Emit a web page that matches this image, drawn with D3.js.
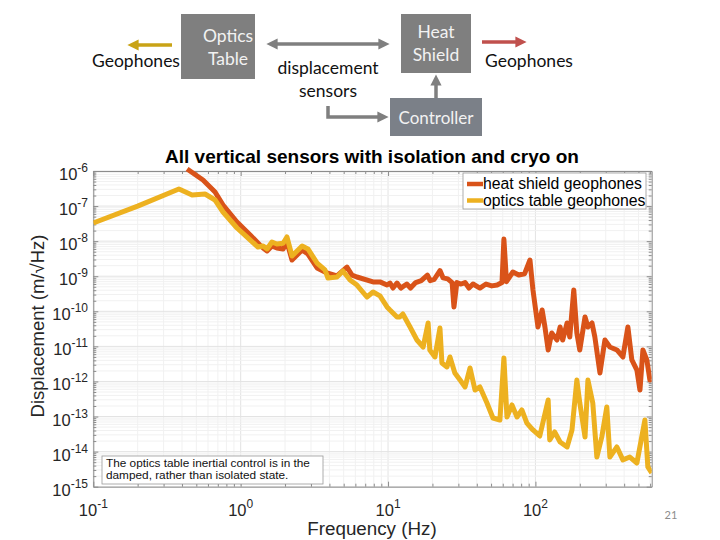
<!DOCTYPE html>
<html><head><meta charset="utf-8">
<script src="https://cdn.jsdelivr.net/npm/d3@7"></script>
<style>body{margin:0;background:#fff} svg{display:block}</style>
</head><body>
<svg id="c" width="720" height="540"></svg>
<script>
// ---------- data ----------
const chartTitle = "All vertical sensors with isolation and cryo on";
const seriesNames = ["heat shield geophones", "optics table geophones"];
const seriesColors = ["#D95319", "#EDB120"];
const xLabel = "Frequency (Hz)";
const yLabel = "Displacement (m/\u221AHz)";
const xTickExps = [-1, 0, 1, 2];
const yTickExps = [-6, -7, -8, -9, -10, -11, -12, -13, -14, -15];
const noteLines = ["The optics table inertial control is in the", "damped, rather than isolated state."];
const pageNumber = "21";

// heat shield geophones
const hsFreq = [0.433, 0.555, 0.67, 0.759, 0.944, 1.16, 1.35, 1.42, 1.51, 1.63, 1.76, 1.94, 2.06, 2.23, 2.61, 2.86, 3.30, 3.85, 4.50, 5.26, 5.69, 6.15, 7.91, 8.81, 9.84,
  10.3, 10.8, 11.5, 12.2, 13.4, 14.2, 15.4, 16.8, 18.5, 19.3, 20.6, 22.5, 23.6, 25.4, 27.2, 28.0, 29.3, 31.3, 33.3, 35.4, 37.7, 42.0, 46.2, 50.6, 55.0, 59.3, 61.1, 63.6, 70.3, 77.0, 84.5, 91.8, 96.2,
  104, 111, 116, 122, 129, 140, 147, 153, 164, 171, 182, 191, 200, 217, 227, 242, 253, 274, 296, 320, 357, 392, 424, 451, 488, 512, 536, 570, 598, 615];
const hsVal = [1.14e-6, 5.53e-7, 2.52e-7, 1.07e-7, 3.52e-8, 1.50e-8, 7.78e-9, 6.38e-9, 5.25e-9, 7.28e-9, 6.38e-9, 6.0e-9, 9.46e-9, 2.9e-9, 5.6e-9, 4.3e-9, 1.72e-9, 1.24e-9, 1.02e-9, 1.83e-9, 1.08e-9, 9.5e-10, 6.9e-10, 6.9e-10, 5.6e-10,
  6.4e-10, 4.6e-10, 6.4e-10, 4.6e-10, 6.0e-10, 4.6e-10, 6.6e-10, 7.5e-10, 1.08e-9, 7.5e-10, 8.2e-10, 1.45e-9, 9.0e-10, 8.4e-10, 6.6e-10, 1.33e-10, 6.6e-10, 6.0e-10, 6.6e-10, 4.6e-10, 6.0e-10, 4.6e-10, 6.0e-10, 5.3e-10, 5.6e-10, 6.6e-10, 1.15e-8, 7.0e-10, 1.32e-9, 1.08e-9, 1.18e-9, 2.9e-9, 4.05e-10,
  3.57e-11, 1.09e-10, 3.57e-11, 7.9e-12, 2.41e-11, 1.52e-11, 3.57e-11, 1.52e-11, 4.65e-11, 1.85e-11, 4.05e-10, 2.41e-11, 7.9e-12, 6.9e-11, 3.57e-11, 4.65e-11, 1.85e-11, 1.75e-12, 1.52e-11, 9.6e-12, 7.9e-12, 4.99e-12, 3.57e-11, 4.1e-12, 2.12e-12, 5.7e-13, 7.9e-12, 4.1e-12, 1.10e-12, 1.3e-12];

// optics table geophones
const otFreq = [0.1, 0.2, 0.381, 0.468, 0.573, 0.67, 0.759, 0.944, 1.10, 1.31, 1.42, 1.51, 1.63, 1.76, 1.94, 2.06, 2.23, 2.61, 2.86, 3.30, 3.73, 3.91, 4.50, 4.94, 5.52, 6.15, 7.19, 7.91, 8.81, 9.84,
  10.3, 11.5, 12.0, 12.6, 14.1, 15.7, 17.3, 18.7, 19.2, 20.8, 22.5, 23.2, 25.1, 26.3, 28.4, 30.8, 33.3, 36.0, 38.9, 42.0, 46.9, 51.5, 57.4, 61.1, 64.1, 69.3, 75.0, 80.9, 87.5, 96.2,
  107, 122, 125, 135, 147, 164, 177, 191, 200, 217, 227, 245, 261, 282, 305, 320, 357, 392, 437, 488, 553, 579, 615];
const otVal = [3.30e-8, 1.0e-7, 3.07e-7, 2.07e-7, 2.21e-7, 1.49e-7, 6.78e-8, 2.37e-8, 1.32e-8, 6.8e-9, 7.28e-9, 6.0e-9, 9.46e-9, 8.3e-9, 8.7e-9, 1.32e-8, 3.78e-9, 7.28e-9, 6.0e-9, 2.38e-9, 1.51e-9, 8.9e-10, 9.5e-10, 1.41e-9, 7.8e-10, 5.6e-10, 2.56e-10, 3.56e-10, 2.74e-10, 1.33e-10,
  1.09e-10, 6.9e-11, 6.9e-11, 8.4e-11, 3.57e-11, 1.52e-11, 9.6e-12, 4.65e-11, 7.9e-12, 4.99e-12, 3.34e-11, 3.37e-12, 2.59e-12, 4.99e-12, 1.75e-12, 1.10e-12, 6.97e-13, 2.42e-12, 5.7e-13, 6.97e-13, 2.44e-13, 9.1e-14, 7.98e-14, 4.67e-12, 9.7e-14, 2.14e-13, 9.7e-14, 1.54e-13, 6.5e-14, 4.14e-14,
  2.79e-14, 2.96e-13, 2.15e-14, 3.63e-14, 1.88e-14, 1.36e-14, 4.14e-14, 1.10e-12, 2.44e-13, 2.61e-14, 1.10e-12, 2.44e-13, 7.0e-15, 2.61e-14, 1.87e-13, 7.0e-15, 1.36e-14, 5.8e-15, 7.0e-15, 4.74e-15, 7.98e-14, 3.65e-15, 2.46e-15];

// ---------- layout ----------
const svg = d3.select("#c");
const L = 93.3, R = 651.7, T = 171, B = 486.7;
const x = d3.scaleLog().domain([0.1, 615]).range([L, R]);
const y = d3.scaleLog().domain([1e-15, 1e-6]).range([B, T]);
const axisFont = "Helvetica, Arial, 'Liberation Sans', sans-serif";

// ---------- top diagram ----------
const diag = svg.append("g").attr("font-family", "Lato, 'Open Sans', sans-serif");
const boxFill = "#7f7f7f";
const defs = svg.append("defs");
function marker(id, color) {
  defs.append("marker").attr("id", id).attr("viewBox", "0 0 10 10").attr("refX", 5).attr("refY", 5)
    .attr("markerWidth", 3.2).attr("markerHeight", 3.2).attr("orient", "auto-start-reverse")
    .append("path").attr("d", "M0,0 L10,5 L0,10 z").attr("fill", color);
}
marker("mg", "#7f7f7f"); marker("my", "#c9a316"); marker("mr", "#c0504d");

diag.append("rect").attr("x", 181).attr("y", 14).attr("width", 74).attr("height", 65).attr("fill", boxFill);
diag.append("text").attr("x", 228).attr("y", 42).attr("text-anchor", "middle").attr("fill", "#f2f2f2").attr("font-size", 17.5).text("Optics");
diag.append("text").attr("x", 228).attr("y", 65).attr("text-anchor", "middle").attr("fill", "#f2f2f2").attr("font-size", 17.5).text("Table");
diag.append("text").attr("x", 136).attr("y", 67).attr("text-anchor", "middle").attr("fill", "#111").attr("font-size", 17.5).text("Geophones");
diag.append("line").attr("x1", 172).attr("y1", 45).attr("x2", 133).attr("y2", 45).attr("stroke", "#c9a316").attr("stroke-width", 3.5).attr("marker-end", "url(#my)");

diag.append("line").attr("x1", 272).attr("y1", 44).attr("x2", 384).attr("y2", 44).attr("stroke", "#7f7f7f").attr("stroke-width", 3.5)
  .attr("marker-start", "url(#mg)").attr("marker-end", "url(#mg)");
diag.append("text").attr("x", 328).attr("y", 74).attr("text-anchor", "middle").attr("fill", "#111").attr("font-size", 17.5).text("displacement");
diag.append("text").attr("x", 328).attr("y", 97).attr("text-anchor", "middle").attr("fill", "#111").attr("font-size", 17.5).text("sensors");

diag.append("rect").attr("x", 401).attr("y", 14).attr("width", 70).attr("height", 59).attr("fill", boxFill);
diag.append("text").attr("x", 436).attr("y", 38).attr("text-anchor", "middle").attr("fill", "#f2f2f2").attr("font-size", 17.5).text("Heat");
diag.append("text").attr("x", 436).attr("y", 61).attr("text-anchor", "middle").attr("fill", "#f2f2f2").attr("font-size", 17.5).text("Shield");
diag.append("line").attr("x1", 482).attr("y1", 42).attr("x2", 521).attr("y2", 42).attr("stroke", "#c0504d").attr("stroke-width", 3.5).attr("marker-end", "url(#mr)");
diag.append("text").attr("x", 529).attr("y", 67).attr("text-anchor", "middle").attr("fill", "#111").attr("font-size", 17.5).text("Geophones");

diag.append("rect").attr("x", 390).attr("y", 98).attr("width", 92).attr("height", 38).attr("fill", "#7b8088");
diag.append("text").attr("x", 436).attr("y", 124).attr("text-anchor", "middle").attr("fill", "#f2f2f2").attr("font-size", 17).text("Controller");
diag.append("line").attr("x1", 436).attr("y1", 98).attr("x2", 436).attr("y2", 80).attr("stroke", "#7f7f7f").attr("stroke-width", 3.5).attr("marker-end", "url(#mg)");
diag.append("path").attr("d", "M328,106 L328,117 L383,117").attr("fill", "none").attr("stroke", "#7f7f7f").attr("stroke-width", 3.5).attr("marker-end", "url(#mg)");

// ---------- plot ----------
const plot = svg.append("g");
// grid
const xMinor = x.ticks().filter(v => v >= 0.1 && v <= 615);
const yMinor = y.ticks();
const isDecade = v => Math.abs(Math.log10(v) - Math.round(Math.log10(v))) < 1e-6;
plot.append("g").selectAll("line").data(xMinor).join("line")
  .attr("x1", d => x(d)).attr("x2", d => x(d)).attr("y1", T).attr("y2", B)
  .attr("stroke", d => isDecade(d) ? "#e3e3e3" : "#f1f1f1").attr("stroke-width", 1);
plot.append("g").selectAll("line").data(yMinor).join("line")
  .attr("y1", d => y(d)).attr("y2", d => y(d)).attr("x1", L).attr("x2", R)
  .attr("stroke", d => isDecade(d) ? "#e3e3e3" : "#f1f1f1").attr("stroke-width", 1);

// axes (ticks inward, box)
const axCol = "#8c8c8c";
function styleAxis(g) { g.select(".domain").attr("stroke", axCol); g.selectAll(".tick line").attr("stroke", axCol); g.selectAll("text").remove(); }
const tickLen = d => isDecade(d) ? 5 : 3;
plot.append("g").attr("transform", `translate(0,${B})`).call(d3.axisBottom(x).tickValues(xMinor).tickSize(-5).tickSizeOuter(0).tickFormat(""))
  .call(styleAxis).selectAll(".tick line").attr("y2", d => -tickLen(d));
plot.append("g").attr("transform", `translate(0,${T})`).call(d3.axisTop(x).tickValues(xMinor).tickSize(-5).tickSizeOuter(0).tickFormat(""))
  .call(styleAxis).selectAll(".tick line").attr("y2", d => tickLen(d));
plot.append("g").attr("transform", `translate(${L},0)`).call(d3.axisLeft(y).tickValues(yMinor).tickSize(-5).tickSizeOuter(0).tickFormat(""))
  .call(styleAxis).selectAll(".tick line").attr("x2", d => tickLen(d));
plot.append("g").attr("transform", `translate(${R},0)`).call(d3.axisRight(y).tickValues(yMinor).tickSize(-5).tickSizeOuter(0).tickFormat(""))
  .call(styleAxis).selectAll(".tick line").attr("x2", d => -tickLen(d));

// tick labels
const yl = plot.append("g").attr("font-family", axisFont).attr("fill", "#262626");
yTickExps.forEach(e => {
  const t = yl.append("text").attr("x", 88).attr("y", y(Math.pow(10, e)) + 9).attr("text-anchor", "end").attr("font-size", 16.5);
  t.append("tspan").text("10");
  t.append("tspan").attr("dy", -8).attr("font-size", 12).text("-" + Math.abs(e));
});
xTickExps.forEach(e => {
  const t = yl.append("text").attr("x", x(Math.pow(10, e))).attr("y", 516).attr("text-anchor", "middle").attr("font-size", 16.5);
  t.append("tspan").text("10");
  t.append("tspan").attr("dy", -8).attr("font-size", 12).text((e < 0 ? "-" : "") + Math.abs(e));
});

// lines
defs.append("clipPath").attr("id", "pc").append("rect").attr("x", L).attr("y", T - 4).attr("width", R - L).attr("height", B - T + 4);
const line = d3.line().x(d => x(d[0])).y(d => y(d[1]));
const hsData = hsFreq.map((f, i) => [f, hsVal[i]]);
const otData = otFreq.map((f, i) => [f, otVal[i]]);
const lg = plot.append("g").attr("clip-path", "url(#pc)");
lg.append("path").datum(hsData).attr("d", line).attr("fill", "none").attr("stroke", seriesColors[0]).attr("stroke-width", 5).attr("stroke-linejoin", "round");
lg.append("path").datum(otData).attr("d", line).attr("fill", "none").attr("stroke", seriesColors[1]).attr("stroke-width", 5).attr("stroke-linejoin", "round");

// title & labels
plot.append("text").attr("x", 372).attr("y", 163).attr("text-anchor", "middle").attr("font-family", axisFont).attr("font-weight", "bold").attr("font-size", 19).attr("fill", "#000").text(chartTitle);
plot.append("text").attr("x", 372).attr("y", 535).attr("text-anchor", "middle").attr("font-family", axisFont).attr("font-size", 18.8).attr("fill", "#262626").text(xLabel);
plot.append("text").attr("transform", "translate(44,326) rotate(-90)").attr("text-anchor", "middle").attr("font-family", axisFont).attr("font-size", 18.5).attr("fill", "#262626").text(yLabel);

// legend
const leg = plot.append("g").attr("font-family", axisFont);
leg.append("rect").attr("x", 463).attr("y", 173).attr("width", 183).attr("height", 36).attr("fill", "#fff").attr("stroke", "#9a9a9a").attr("stroke-width", 0.8);
seriesNames.forEach((n, i) => {
  const yy = 184 + i * 16.5;
  leg.append("line").attr("x1", 467).attr("x2", 483).attr("y1", yy).attr("y2", yy).attr("stroke", seriesColors[i]).attr("stroke-width", 4.5);
  leg.append("text").attr("x", 483).attr("y", yy + 5).attr("font-size", 15.8).attr("fill", "#000").text(n);
});

// note box
const nb = plot.append("g").attr("font-family", axisFont);
nb.append("rect").attr("x", 102).attr("y", 456).attr("width", 221).attr("height", 28).attr("fill", "#fff").attr("stroke", "#9a9a9a").attr("stroke-width", 0.8);
noteLines.forEach((t, i) => nb.append("text").attr("x", 106).attr("y", 466.5 + i * 12.5).attr("font-size", 11.8).attr("fill", "#111").text(t));

// page number
svg.append("text").attr("x", 671).attr("y", 519).attr("text-anchor", "middle").attr("font-family", "Lato, sans-serif").attr("font-size", 11).attr("fill", "#8c8c8c").text(pageNumber);
</script>
</body></html>
